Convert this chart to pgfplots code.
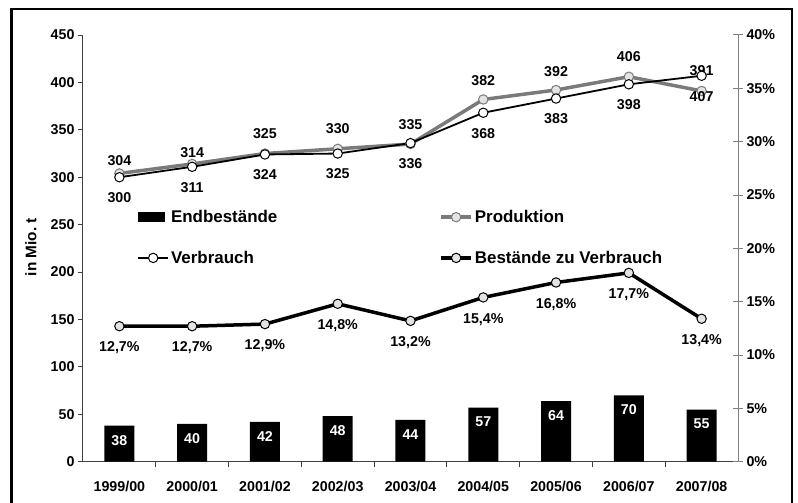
\documentclass[border=0pt]{standalone}
\usepackage{fontspec}
\setmainfont{Liberation Sans}
\usepackage{pgfplots}
\pgfplotsset{compat=1.18}
\definecolor{prodgray}{HTML}{7A7A7A}
\definecolor{mklight}{HTML}{E3E3E3}
\definecolor{axgray}{HTML}{404040}
\definecolor{raxgray}{HTML}{808080}

\pgfplotstableread{
x y s
0 304 3.6
1 314 2
2 325 11
3 330 11
4 335 11
5 382 10
6 392 10
7 406 11
8 391 11
}\prodtable

\pgfplotstableread{
x y
0 300
1 311
2 324
3 325
4 336
5 368
6 383
7 398
8 407
}\verbtable

\pgfplotstableread{
x y
0 38
1 40
2 42
3 48
4 44
5 57
6 64
7 70
8 55
}\bartable

\pgfplotstableread{
x y
0 12.7
1 12.7
2 12.9
3 14.8
4 13.2
5 15.4
6 16.8
7 17.7
8 13.4
}\ratiotable

\newcommand{\tfont}{\fontsize{14.3}{17}\selectfont\bfseries}

\begin{document}
\begin{tikzpicture}
\useasboundingbox (-83bp,-41.3bp) rectangle (715bp,461.7bp);
\draw[line width=2.5bp] (-71.5bp,-60bp) rectangle (709bp,452.7bp);

\begin{axis}[
  at={(0bp,0bp)}, anchor=south west,
  scale only axis, width=655bp, height=426.7bp,
  xmin=-0.5, xmax=8.5, ymin=0, ymax=450,
  axis x line*=bottom, axis y line*=left,
  axis line style={axgray, line width=1bp},
  every outer x axis line/.append style={-}, every outer y axis line/.append style={-},
  ytick={0,50,...,450},
  xtick={0,...,8},
  xticklabels={1999/00,2000/01,2001/02,2002/03,2003/04,2004/05,2005/06,2006/07,2007/08},
  minor xtick={0.5,1.5,...,7.5},
  major x tick style={draw=none},
  minor x tick style={axgray, line width=1bp},
  y tick style={axgray, line width=1bp},
  tick align=outside,
  major tick length=5bp, minor tick length=5bp,
  ticklabel style={font=\tfont},
  xticklabel style={yshift=-11bp},
  /pgf/number format/assume math mode=true,
  ylabel={in Mio.\ t},
  ylabel style={font=\fontsize{15.4}{18}\selectfont\bfseries, at={(axis description cs:-0.0794,0.503)}, anchor=center},
  clip=false,
  legend columns=2,
  legend cell align=left,
  legend image code/.code={\draw[mark repeat=2,mark phase=2,#1] plot coordinates {(0bp,0bp) (15bp,0bp) (30bp,0bp)};},
  legend style={draw=none, fill=none, at={(0.078,0.599)}, anchor=north west,
    font=\fontsize{17}{20}\selectfont\bfseries, row sep=23bp,
    /tikz/every even column/.append style={column sep=160bp}},
]
\addplot[ybar, bar width=30bp, fill=black, draw=none,
  legend image code/.code={\fill[black] (0bp,-5bp) rectangle (27bp,5bp);},
  point meta=y, nodes near coords,
  every node near coord/.append style={anchor=north, yshift=-6bp, white, font=\tfont}]
  table[x=x,y=y] {\bartable};
\addlegendentry{Endbestände}

\addplot[prodgray, line width=3.5bp, mark=*, mark size=4.7bp,
  mark options={solid, fill=mklight, draw=prodgray, line width=1bp},
  point meta=y, nodes near coords,
  visualization depends on={\thisrow{s} \as \myshift},
  every node near coord/.append style={anchor=south, yshift=\myshift bp, black, font=\tfont}]
  table[x=x,y=y] {\prodtable};
\addlegendentry{Produktion}

\addplot[black, line width=1.8bp, mark=*, mark size=4.7bp,
  mark options={solid, fill=white, draw=black, line width=1bp},
  point meta=y, nodes near coords,
  every node near coord/.append style={anchor=north, yshift=-11.6bp, black, font=\tfont}]
  table[x=x,y=y] {\verbtable};
\addlegendentry{Verbrauch}

\addlegendimage{black, line width=3.5bp, mark=*, mark size=4.7bp,
  mark options={solid, fill=mklight, draw=black, line width=1bp}}
\addlegendentry{Bestände zu Verbrauch}
\end{axis}

\begin{axis}[
  at={(0bp,0bp)}, anchor=south west,
  scale only axis, width=655bp, height=426.7bp,
  xmin=-0.5, xmax=8.5, ymin=0, ymax=40,
  axis y line*=right, axis x line=none,
  axis line style={raxgray, line width=1bp},
  every outer y axis line/.append style={-},
  ytick={0,5,...,40},
  yticklabel={\pgfmathprintnumber{\tick}\%},
  y tick style={raxgray, line width=1bp},
  tick align=center, major tick length=10bp,
  ticklabel style={font=\tfont},
  /pgf/number format/assume math mode=true,
  clip=false,
]
\addplot[black, line width=3.5bp, mark=*, mark size=4.7bp,
  mark options={solid, fill=mklight, draw=black, line width=1bp},
  point meta=y,
  nodes near coords={\pgfmathprintnumber[use comma,fixed,fixed zerofill,precision=1]{\pgfplotspointmeta}\%},
  every node near coord/.append style={anchor=north, yshift=-12bp, black, font=\tfont}]
  table[x=x,y=y] {\ratiotable};
\end{axis}
\end{tikzpicture}
\end{document}
